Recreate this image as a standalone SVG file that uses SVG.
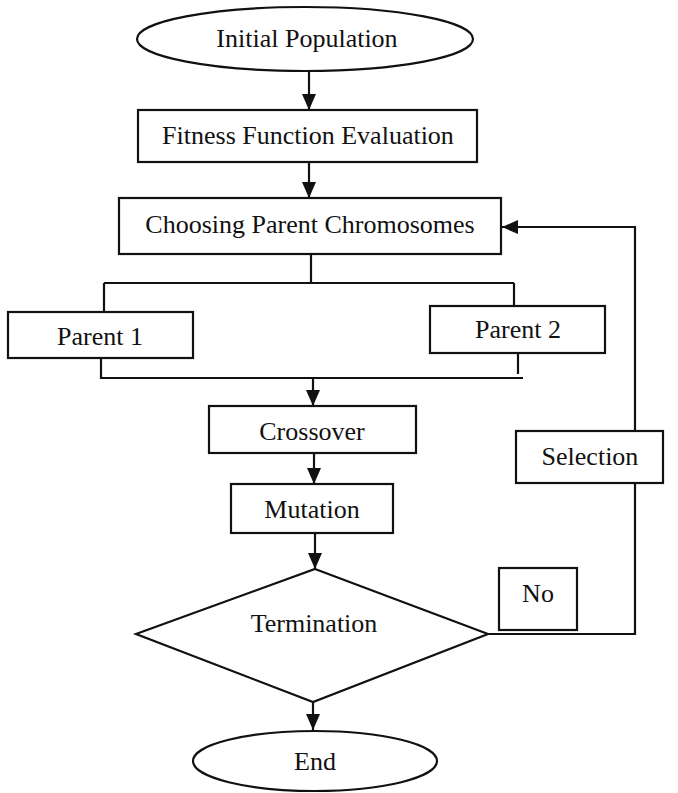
<svg xmlns="http://www.w3.org/2000/svg" width="678" height="793" viewBox="0 0 678 793">
<defs>
<marker id="ah" markerUnits="userSpaceOnUse" markerWidth="16" markerHeight="14" refX="16" refY="7" orient="auto">
<path d="M0,0 L16,7 L0,14 z" fill="#111"/>
</marker>
<style>
.s{fill:#fff;stroke:#111;stroke-width:2.2}
.t{font-family:"Liberation Serif","Times New Roman",serif;font-size:26px;fill:#111;text-anchor:middle}
.c{fill:none;stroke:#111;stroke-width:2.2}
</style>
</defs>
<rect width="678" height="793" fill="#fff"/>
<g id="connectors">
<path class="c" d="M309,71 V110" marker-end="url(#ah)"/>
<path class="c" d="M309,162 V198" marker-end="url(#ah)"/>
<path class="c" d="M311,254 V283 M104,283 H514 M104,283 V312 M514,283 V306"/>
<path class="c" d="M101,358 V378 H523 M518,353 V374"/>
<path class="c" d="M313,378 V406" marker-end="url(#ah)"/>
<path class="c" d="M314,453 V484" marker-end="url(#ah)"/>
<path class="c" d="M315,533 V569" marker-end="url(#ah)"/>
<path class="c" d="M488,634 H635 V483"/>
<path class="c" d="M635,431 V227 H502" marker-end="url(#ah)"/>
<path class="c" d="M313,702 V730" marker-end="url(#ah)"/>
</g>
<g id="initial">
<ellipse class="s" cx="305" cy="39" rx="168" ry="32"/>
<text class="t" x="307" y="47">Initial Population</text>
</g>
<g id="fitness">
<rect class="s" x="138" y="110" width="339" height="52"/>
<text class="t" x="308" y="144">Fitness Function Evaluation</text>
</g>
<g id="choosing">
<rect class="s" x="119" y="198" width="382" height="56"/>
<text class="t" x="310" y="233">Choosing Parent Chromosomes</text>
</g>
<g id="parent1">
<rect class="s" x="8" y="312" width="185" height="46"/>
<text class="t" x="100" y="345">Parent 1</text>
</g>
<g id="parent2">
<rect class="s" x="430" y="306" width="175" height="47"/>
<text class="t" x="518" y="338">Parent 2</text>
</g>
<g id="crossover">
<rect class="s" x="209" y="406" width="207" height="47"/>
<text class="t" x="312" y="440">Crossover</text>
</g>
<g id="mutation">
<rect class="s" x="231" y="484" width="162" height="49"/>
<text class="t" x="312" y="518">Mutation</text>
</g>
<g id="selection">
<rect class="s" x="516" y="431" width="147" height="52"/>
<text class="t" x="590" y="465">Selection</text>
</g>
<g id="termination">
<polygon class="s" points="315,569 488,634 313,702 136,634"/>
<text class="t" x="314" y="632">Termination</text>
</g>
<g id="no">
<rect class="s" x="499" y="568" width="78" height="62"/>
<text class="t" x="538" y="602">No</text>
</g>
<g id="end">
<ellipse class="s" cx="315" cy="761" rx="122" ry="30"/>
<text class="t" x="315" y="770">End</text>
</g>
</svg>
